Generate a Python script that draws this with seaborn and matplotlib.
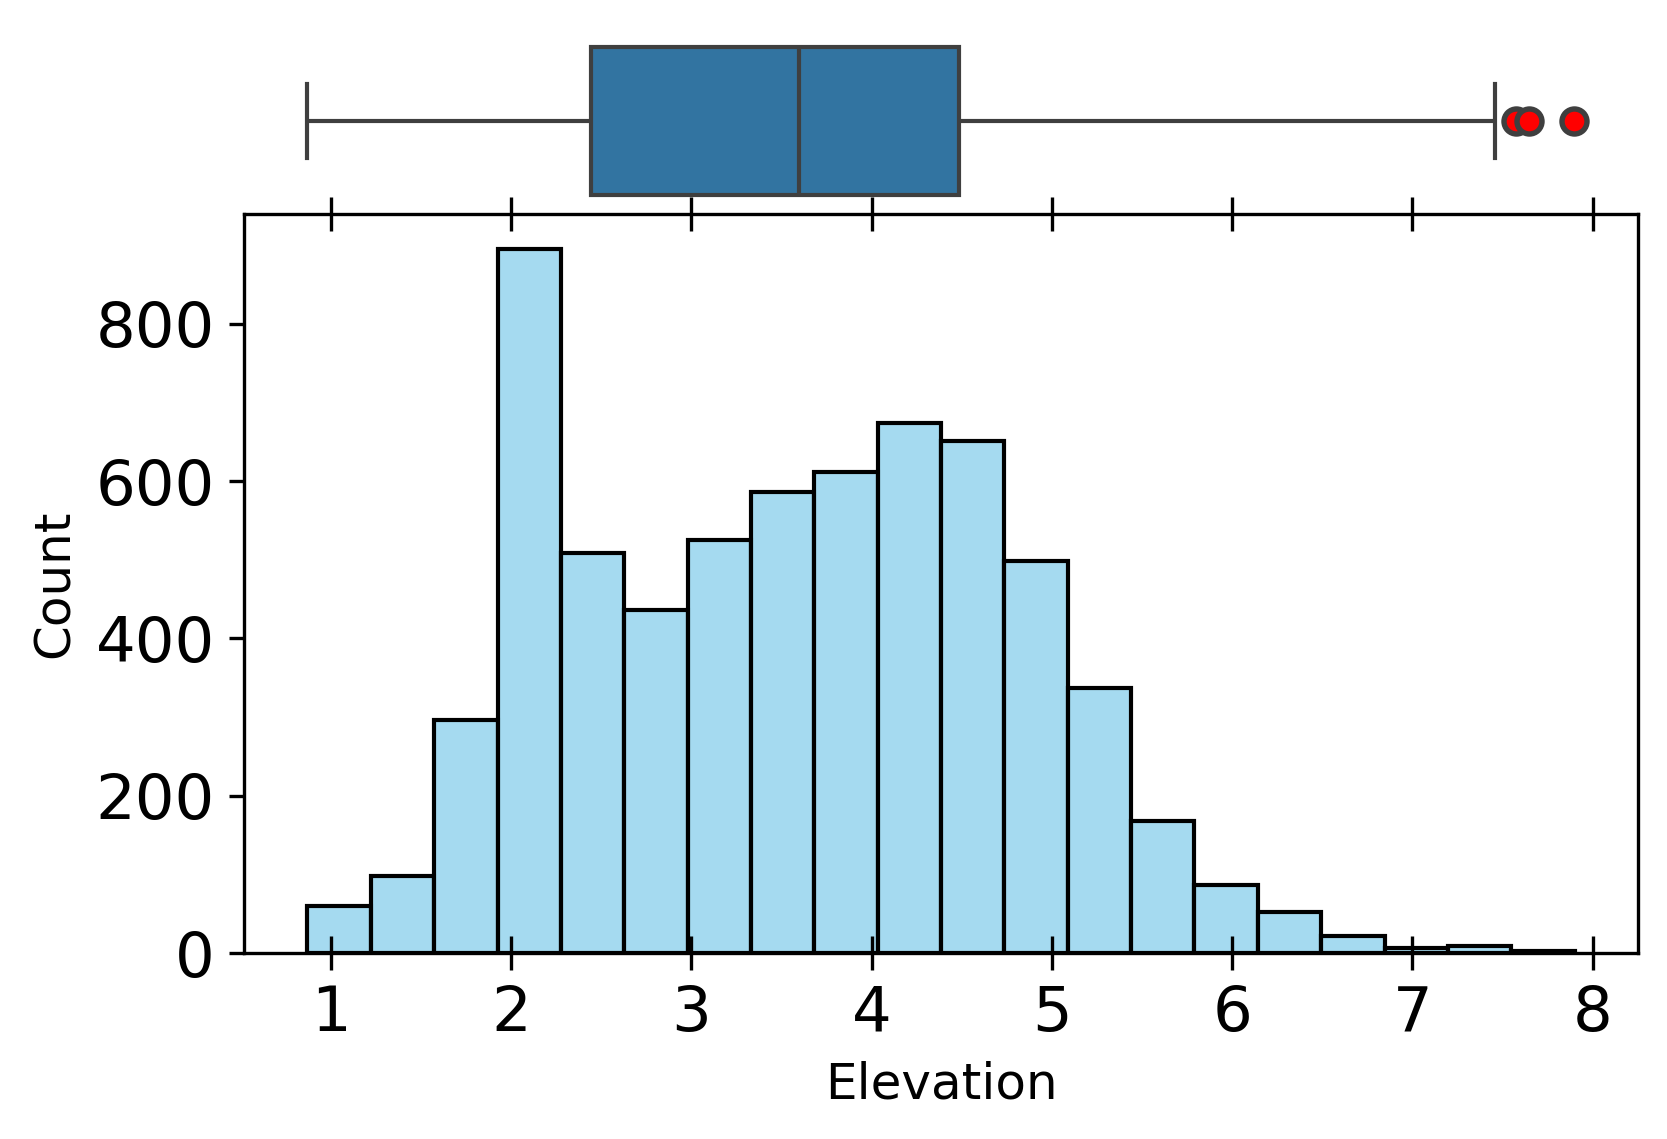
"""Boxplot + histograma de Elevation (seaborn)."""

import matplotlib

matplotlib.use("Agg")

import matplotlib.pyplot as plt
import pandas as pd
import seaborn as sns

# limites dos bins do histograma (20 bins)
bin_edges = [0.870, 1.222, 1.573, 1.925, 2.276, 2.628, 2.979, 3.331, 3.682,
             4.034, 4.385, 4.737, 5.088, 5.440, 5.791, 6.143, 6.494, 6.846,
             7.197, 7.549, 7.900]
# contagem por bin
bin_counts = [60, 98, 296, 895, 509, 436, 525, 586, 612, 674,
              651, 499, 337, 168, 87, 52, 21, 6, 9, 3]

# amostra que reproduz o resumo do boxplot:
# min 0.87, Q1 2.445, mediana 3.60, Q3 4.487, bigode 7.46, outliers 7.57 / 7.645 / 7.895
box_values = [0.87, 1.60, 2.00, 2.25, 2.445, 2.90, 3.20, 3.40, 3.60,
              3.90, 4.10, 4.30, 4.487, 7.46, 7.573, 7.645, 7.895]


def main() -> None:
    hist_df = pd.DataFrame({
        "center": [(a + b) / 2 for a, b in zip(bin_edges[:-1], bin_edges[1:])],
        "count": bin_counts,
    })

    fig, (ax_box, ax_hist) = plt.subplots(
        2, 1, sharex=True,
        figsize=(1668 / 300, 1139 / 300), dpi=300,
        gridspec_kw={"height_ratios": (186, 739), "hspace": 0},
    )
    fig.subplots_adjust(left=0.1463, right=0.982, bottom=0.1633, top=0.9754)

    sns.boxplot(x=box_values, ax=ax_box,
                flierprops={"markerfacecolor": "red", "markeredgewidth": 1.3})
    ax_box.set_xlabel("")
    ax_box.set_ylabel("")
    ax_box.set_yticks([])
    ax_box.tick_params(bottom=False, left=False)
    for spine in ax_box.spines.values():
        spine.set_visible(False)

    sns.histplot(data=hist_df, x="center", weights="count", bins=bin_edges,
                 color="skyblue", edgecolor="black", ax=ax_hist)
    ax_hist.set_xlabel("Elevation", fontsize=12)
    ax_hist.set_ylabel("Count", fontsize=12)
    ax_hist.tick_params(axis="x", top=True, direction="inout", length=8,
                        labelsize=15)
    ax_hist.tick_params(axis="y", labelsize=15)
    ax_hist.set_xticks([1, 2, 3, 4, 5, 6, 7, 8])

    fig.savefig("out.png", dpi=300)


if __name__ == "__main__":
    main()
